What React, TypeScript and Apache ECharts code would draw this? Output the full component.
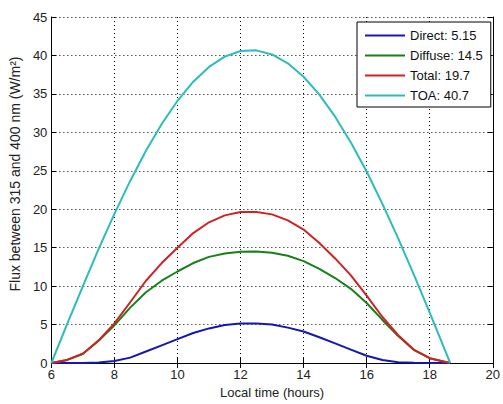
import React, { useEffect, useRef } from "react";
import * as echarts from "echarts";

const hours = [6, 6.5, 7, 7.5, 8, 8.5, 9, 9.5, 10, 10.5, 11, 11.5, 12, 12.5, 13, 13.5, 14, 14.5, 15, 15.5, 16, 16.5, 17, 17.5, 18, 18.5, 18.65];
const direct = [0, 0, 0, 0.05, 0.25, 0.7, 1.5, 2.3, 3.1, 3.9, 4.5, 4.95, 5.15, 5.15, 5.0, 4.6, 4.1, 3.35, 2.55, 1.74, 0.94, 0.38, 0.11, 0.02, 0, 0, 0];
const diffuse = [0, 0.4, 1.2, 2.9, 4.9, 7.2, 9.2, 10.7, 11.9, 13.0, 13.8, 14.25, 14.48, 14.5, 14.33, 13.95, 13.25, 12.25, 11.05, 9.65, 7.8, 5.6, 3.5, 1.7, 0.62, 0.12, 0];
const total = [0, 0.4, 1.2, 2.95, 5.15, 7.9, 10.7, 13.0, 15.0, 16.9, 18.3, 19.2, 19.63, 19.65, 19.33, 18.55, 17.35, 15.6, 13.6, 11.4, 8.75, 5.98, 3.61, 1.72, 0.62, 0.12, 0];
const toa = [0, 5.04, 10.0, 14.84, 19.4, 23.68, 27.6, 31.09, 34.1, 36.59, 38.51, 39.85, 40.57, 40.66, 40.13, 38.98, 37.23, 34.9, 32.04, 28.69, 24.9, 20.7, 16.2, 11.46, 6.54, 1.51, 0];

const seriesNames = ["Direct: 5.15", "Diffuse: 14.5", "Total: 19.7", "TOA: 40.7"];
const seriesValues = [direct, diffuse, total, toa];
const seriesColors = ["#1616b4", "#17801a", "#d02222", "#2cbcbc"];

const xTicks = { min: 6, max: 20, interval: 2 };
const yTicks = { min: 0, max: 45, interval: 5 };

const FONT = "'Liberation Sans', Arial, sans-serif";

export default function App() {
  const ref = useRef<HTMLDivElement>(null);
  useEffect(() => {
    if (!ref.current) return;
    const chart = echarts.init(ref.current, null, { renderer: "svg" });
    const axisLine = { show: true, lineStyle: { color: "#000", width: 1 } };
    const tick = { show: true, inside: true, length: 5, lineStyle: { color: "#000" } };
    const split = { show: true, lineStyle: { color: "#000", type: [1, 3] as any, width: 1 } };
    chart.setOption({
      animation: false,
      backgroundColor: "#fff",
      textStyle: { fontFamily: FONT },
      grid: { left: 50, right: 7, top: 17, bottom: 35, containLabel: false },
      legend: {
        orient: "vertical",
        left: 357,
        top: 22,
        backgroundColor: "#fff",
        borderColor: "#000",
        borderWidth: 1,
        borderRadius: 0,
        padding: [7, 8, 5, 8],
        itemGap: 7,
        itemWidth: 40,
        itemHeight: 2,
        itemTextGap: 5,
        icon: "rect",
        textStyle: { fontSize: 13, color: "#111", fontFamily: FONT, lineHeight: 13 },
        data: seriesNames,
      },
      xAxis: [
        {
          type: "value",
          min: xTicks.min,
          max: xTicks.max,
          interval: xTicks.interval,
          position: "bottom",
          name: "Local time (hours)",
          nameLocation: "middle",
          nameGap: 23,
          nameTextStyle: { fontSize: 13, color: "#222", fontFamily: FONT },
          axisLine,
          axisTick: tick,
          axisLabel: { fontSize: 13, color: "#222", margin: 5, fontFamily: FONT },
          splitLine: split,
        },
        {
          type: "value",
          min: xTicks.min,
          max: xTicks.max,
          interval: xTicks.interval,
          position: "top",
          axisLine,
          axisTick: tick,
          axisLabel: { show: false },
          splitLine: { show: false },
        },
      ],
      yAxis: [
        {
          type: "value",
          min: yTicks.min,
          max: yTicks.max,
          interval: yTicks.interval,
          position: "left",
          name: "Flux between 315 and 400 nm (W/m²)",
          nameLocation: "middle",
          nameGap: 28,
          nameTextStyle: { fontSize: 14, color: "#222", fontFamily: FONT, padding: [0, 0, 0, 32] },
          axisLine,
          axisTick: tick,
          axisLabel: { fontSize: 13, color: "#222", margin: 4, fontFamily: FONT },
          splitLine: split,
        },
        {
          type: "value",
          min: yTicks.min,
          max: yTicks.max,
          interval: yTicks.interval,
          position: "right",
          axisLine,
          axisTick: tick,
          axisLabel: { show: false },
          splitLine: { show: false },
        },
      ],
      series: seriesNames.map((name, i) => ({
        name,
        type: "line",
        xAxisIndex: 0,
        yAxisIndex: 0,
        showSymbol: false,
        symbol: "none",
        smooth: false,
        color: seriesColors[i],
        lineStyle: { width: 2, color: seriesColors[i], join: "round" },
        data: hours.map((h, j) => [h, seriesValues[i][j]]),
      })),
    });
    return () => chart.dispose();
  }, []);
  return <div ref={ref} style={{ width: 503, height: 404, position: "absolute", left: 0, top: 0 }} />;
}
